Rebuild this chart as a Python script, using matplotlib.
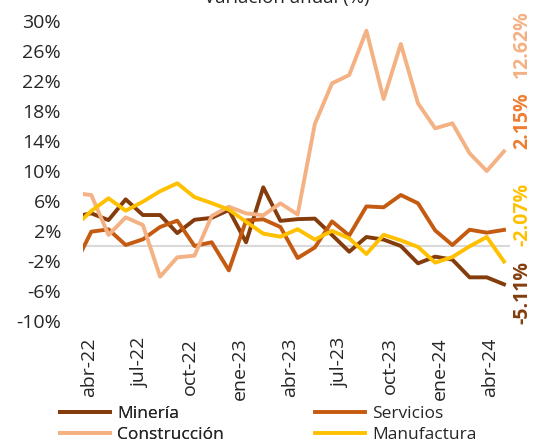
import numpy as np
import matplotlib
matplotlib.use("Agg")
import matplotlib.pyplot as plt

plt.rcParams['font.family'] = ['Open Sans', 'DejaVu Sans']

# Monthly data, annual variation (%); mar-22 is only partly visible at the left edge
meses = ['mar-22', 'abr-22', 'may-22', 'jun-22', 'jul-22', 'ago-22', 'sep-22',
         'oct-22', 'nov-22', 'dic-22', 'ene-23', 'feb-23', 'mar-23', 'abr-23',
         'may-23', 'jun-23', 'jul-23', 'ago-23', 'sep-23', 'oct-23', 'nov-23',
         'dic-23', 'ene-24', 'feb-24', 'mar-24', 'abr-24']

mineria = [3.9, 4.36, 3.45, 6.22, 4.13, 4.13, 1.72, 3.5, 3.75, 4.8, 0.5, 7.82, 3.35,
           3.58, 3.65, 1.47, -0.76, 1.2, 0.85, 0.0, -2.31, -1.42, -1.82, -4.18, -4.18, -5.11]
servicios = [-2.7, 1.91, 2.22, 0.13, 0.89, 2.53, 3.38, 0.0, 0.5, -3.25, 3.4, 3.56, 2.53,
             -1.6, -0.2, 3.28, 1.4, 5.28, 5.16, 6.8, 5.69, 2.07, 0.13, 2.17, 1.78, 2.15]
construccion = [7.06, 6.8, 1.47, 3.82, 2.8, -4.09, -1.51, -1.29, 4.0, 5.24, 4.35, 4.1, 5.69,
                4.2, 16.27, 21.69, 22.8, 28.71, 19.6, 26.93, 19.02, 15.69, 16.36, 12.36, 10.0, 12.62]
manufactura = [2.5, 4.67, 6.36, 4.71, 5.91, 7.3, 8.36, 6.52, 5.72, 4.85, 3.24, 1.65, 1.24,
               2.24, 0.85, 2.02, 1.02, -1.07, 1.5, 0.75, -0.12, -2.22, -1.47, -0.05, 1.2, -2.07]

nombres = ['Minería', 'Servicios', 'Construcción', 'Manufactura']
colores = ['#843C0C', '#C55A11', '#F4B183', '#FFC000']
etiqueta_col = ['#843C0C', '#ED7D31', '#F4B183', '#FFC000']
ultimos = ['-5.11%', '2.15%', '12.62%', '-2.07%']

tick_meses = ['abr-22', 'jul-22', 'oct-22', 'ene-23', 'abr-23', 'jul-23', 'oct-23', 'ene-24', 'abr-24']

W, H = 541, 444
fig = plt.figure(figsize=(W / 100, H / 100), dpi=100)
ax = fig.add_axes([82.7 / W, 1 - 321 / H, (510 - 82.7) / W, 300 / H])

x = np.arange(len(meses))
series = [mineria, servicios, construccion, manufactura]
lines = []
for vals, nom, col in zip(series, nombres, colores):
    ln, = ax.plot(x, vals, color=col, lw=2.8, label=nom, solid_joinstyle='round')
    lines.append(ln)

ax.axhline(0, color='#D9D9D9', lw=1.5, zorder=0.5)

ax.set_xlim(0.5, 25.35)
ax.set_ylim(-10, 30)
yt = list(range(-10, 31, 4))
ax.set_yticks(yt)
ax.set_yticklabels([f'{v}%' for v in yt], fontsize=14, color='#262626')
# label positions as they sit in the original (axis labels drift slightly from the points)
ax.set_xticks(0.9 + np.arange(len(tick_meses)) * 2.91)
ax.set_xticklabels(tick_meses, rotation=90, fontsize=14, color='#262626')
ax.tick_params(axis='y', length=0, pad=15.5)
ax.tick_params(axis='x', length=0, pad=12)
for s in ax.spines.values():
    s.set_visible(False)

# legend: two columns placed like the original
leg_kw = dict(loc='center left', frameon=False, fontsize=12.5, handlelength=2.9,
              handletextpad=0.4, labelspacing=0.3, borderpad=0, borderaxespad=0,
              labelcolor='#262626')
leg1 = fig.legend([lines[0], lines[2]], [nombres[0], nombres[2]],
                  bbox_to_anchor=(60 / W, 1 - 424.2 / H), **leg_kw)
fig.legend([lines[1], lines[3]], [nombres[1], nombres[3]],
           bbox_to_anchor=(315 / W, 1 - 424.2 / H), **leg_kw)
fig.add_artist(leg1)

# end-of-series values, rotated, on the right
pos_y = [292, 121, 44, 214]
for txt, col, py in zip(ultimos, etiqueta_col, pos_y):
    fig.text(522 / W, 1 - py / H, txt, rotation=90, ha='center', va='center',
             color=col, fontsize=14, fontweight='bold')

fig.text(287 / W, 1 - 3 / H, 'Variación anual (%)', ha='center', va='baseline',
         fontsize=13.5, color='#262626')

fig.savefig('out.png', dpi=100)
